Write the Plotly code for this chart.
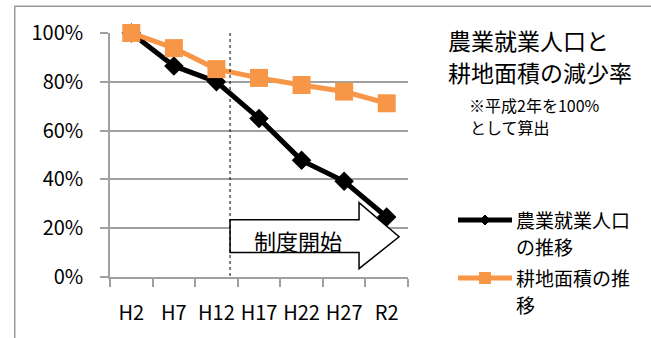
# Import Libraries
import plotly.graph_objects as go

# Data
years = ['H2', 'H7', 'H12', 'H17', 'H22', 'H27', 'R2']
workers = [1.00, 0.865, 0.80, 0.65, 0.478, 0.392, 0.246]   # 農業就業人口の推移
farmland = [1.00, 0.938, 0.852, 0.816, 0.787, 0.76, 0.712]  # 耕地面積の推移
y_ticks = [0, 0.2, 0.4, 0.6, 0.8, 1.0]

FONT = 'Noto Sans CJK JP'
ORANGE = '#F79646'
GRID = '#a0a0a0'

# Plot area in pixels
W_FIG, H_FIG = 651, 338
L, R, T, B = 110, 408, 33, 277


def px(x):
    """pixel x -> paper x"""
    return (x - L) / (R - L)


def py(y):
    """pixel y -> paper y"""
    return (B - y) / (B - T)


fig = go.Figure()

fig.add_trace(go.Scatter(x=years, y=workers, mode='lines+markers',
                         name='農業就業人口の推移',
                         line=dict(color='black', width=5),
                         marker=dict(symbol='diamond', size=15, color='black'),
                         cliponaxis=False))
fig.add_trace(go.Scatter(x=years, y=farmland, mode='lines+markers',
                         name='耕地面積の推移',
                         line=dict(color=ORANGE, width=5),
                         marker=dict(symbol='square', size=18, color=ORANGE),
                         cliponaxis=False))

shapes = []
# outer frame (top and left edges; the rest falls outside the window)
shapes.append(dict(type='rect', xref='paper', yref='paper',
                   x0=px(14), x1=px(651), y0=py(338), y1=py(5.5),
                   line=dict(width=0), fillcolor='#999999', layer='below'))
shapes.append(dict(type='rect', xref='paper', yref='paper',
                   x0=px(15.5), x1=px(651), y0=py(338), y1=py(7),
                   line=dict(width=0), fillcolor='white', layer='below'))
# dotted start line
shapes.append(dict(type='line', xref='x', yref='y', x0=2.32, x1=2.32,
                   y0=1.0, y1=-0.04, line=dict(color='black', width=1, dash='dot')))
# arrow
shapes.append(dict(type='path', xref='x', yref='y', layer='between',
                   path='M 2.32 0.235 L 5.35 0.235 L 5.35 0.305 L 6.29 0.165 '
                        'L 5.35 0.034 L 5.35 0.10 L 2.32 0.10 Z',
                   fillcolor='white', line=dict(color='black', width=1.5)))
# legend samples
shapes.append(dict(type='line', xref='paper', yref='paper',
                   x0=px(458), x1=px(512), y0=py(220), y1=py(220),
                   line=dict(color='black', width=5)))
shapes.append(dict(type='path', xref='paper', yref='paper',
                   path=f'M {px(485)} {py(215)} L {px(490)} {py(220)} L {px(485)} {py(225)} '
                        f'L {px(480)} {py(220)} Z',
                   fillcolor='black', line=dict(color='black', width=1)))
shapes.append(dict(type='line', xref='paper', yref='paper',
                   x0=px(458), x1=px(512), y0=py(278), y1=py(278),
                   line=dict(color=ORANGE, width=5)))
shapes.append(dict(type='rect', xref='paper', yref='paper',
                   x0=px(479), x1=px(491), y0=py(272), y1=py(284),
                   fillcolor=ORANGE, line=dict(color=ORANGE, width=0)))

annotations = []


def label(text, x, y, size, anchor='left'):
    annotations.append(dict(text=text, xref='paper', yref='paper', x=px(x), y=py(y),
                            xanchor=anchor, yanchor='middle', showarrow=False,
                            font=dict(family=FONT, size=size, color='black')))


label('農業就業人口と', 446, 40, 23)
label('耕地面積の減少率', 446, 72, 23)
label('※平成2年を100%', 467, 105.5, 16)
label('として算出', 468, 127.5, 16)
label('農業就業人口', 514, 219.5, 19)
label('の推移', 514, 246.5, 19)
label('耕地面積の推', 514, 277.5, 19)
label('移', 514, 304.5, 19)
annotations.append(dict(text='制度開始', xref='x', yref='y', x=3.92, y=0.153,
                        showarrow=False, xanchor='center', yanchor='middle',
                        font=dict(family=FONT, size=22, color='black')))

fig.update_layout(
    width=W_FIG, height=H_FIG,
    margin=dict(l=L, r=W_FIG - R, t=T, b=H_FIG - B, pad=0),
    paper_bgcolor='white', plot_bgcolor='white',
    showlegend=False,
    font=dict(family=FONT, size=20, color='black'),
    shapes=shapes, annotations=annotations,
)
fig.update_xaxes(type='category', range=[-0.5, 6.5], tickson='boundaries',
                 ticks='outside', ticklen=8, tickcolor=GRID, tickwidth=1.5,
                 showline=True, linecolor=GRID, linewidth=1.5, tickangle=0,
                 showgrid=False, zeroline=False, ticklabelstandoff=17, automargin=False,
                 tickfont=dict(family=FONT, size=20))
fig.update_yaxes(range=[0, 1], tickvals=y_ticks, tickformat='.0%',
                 ticks='outside', ticklen=8, tickcolor=GRID, tickwidth=1.5,
                 showline=True, linecolor=GRID, linewidth=1.5, automargin=False,
                 showgrid=True, gridcolor=GRID, gridwidth=1.5, zeroline=False,
                 ticklabelstandoff=13, tickfont=dict(family=FONT, size=20))

# page body has a default margin; remove it so the figure sits at the corner
fig.write_html("out.html", config={'displayModeBar': False},
               post_script="document.body.style.margin='0';")
